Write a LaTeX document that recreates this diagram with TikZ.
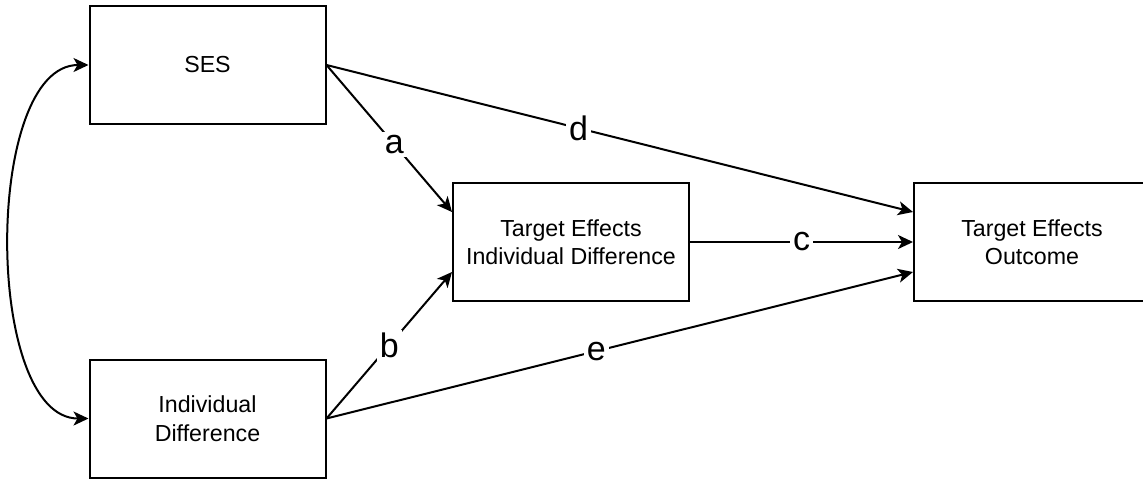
\documentclass[tikz,border=0pt]{standalone}
\usepackage{fontspec}
\setmainfont{Liberation Sans}
\usetikzlibrary{arrows.meta,calc}
\begin{document}
\begin{tikzpicture}[x=0.5pt,y=-0.5pt,
  box/.style={draw=black, line width=1pt, fill=white, minimum width=118pt, minimum height=59pt,
    align=center, inner sep=0pt, font=\fontsize{11.6}{14.2}\selectfont},
  link/.style={line width=1pt, -{Stealth[length=7.5pt,width=7pt,inset=2pt]}},
  lbl/.style={fill=white, inner sep=1.5pt, font=\fontsize{17}{19}\selectfont}]
  \useasboundingbox (0,0) rectangle (1143,478);

  % boxes
  \node[box] (ses) at (207.5,65) {SES};
  \node[box] (ind) at (207.5,418.5) {Individual\\Difference};
  \node[box] (med) at (571,242) {Target Effects\\Individual Difference};
  \node[box] (out) at (1032,242) {Target Effects\\Outcome};

  % entry points on the left sides of the target boxes
  \coordinate (medA) at ($(med.north west)!0.25!(med.south west)$);
  \coordinate (medB) at ($(med.north west)!0.75!(med.south west)$);
  \coordinate (outD) at ($(out.north west)!0.25!(out.south west)$);
  \coordinate (outE) at ($(out.north west)!0.75!(out.south west)$);

  % correlation between the two predictors
  \draw[line width=1pt, {Stealth[length=7.5pt,width=7pt,inset=2pt]}-{Stealth[length=7.5pt,width=7pt,inset=2pt]}]
    (ses.west) .. controls +(-105,0) and +(-105,0) .. (ind.west);

  % paths
  \draw[link] (ses.east) -- node[lbl, pos=0.54] {a} (medA);
  \draw[link] (ind.east) -- node[lbl, pos=0.5] {b} (medB);
  \draw[link] (med.east) -- node[lbl, pos=0.5] {c} (out.west);
  \draw[link] (ses.east) -- node[lbl, pos=0.43] {d} (outD);
  \draw[link] (ind.east) -- node[lbl, pos=0.46] {e} (outE);
\end{tikzpicture}
\end{document}
